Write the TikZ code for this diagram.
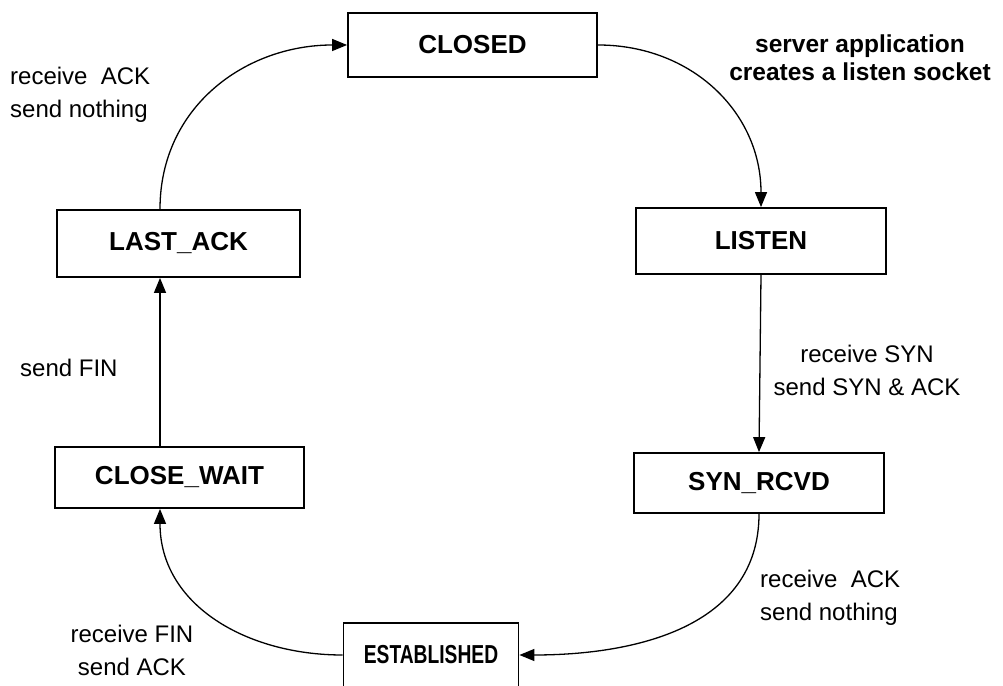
\documentclass[tikz,border=0pt]{standalone}
\usepackage{fontspec}
\setmainfont{Liberation Sans}
\usetikzlibrary{arrows.meta,calc}
\begin{document}
\begin{tikzpicture}[x=1pt,y=1pt,
  state/.style={draw=black, line width=1.8pt, fill=white, inner sep=0pt,
                font=\fontsize{26}{30}\selectfont\bfseries},
  link/.style={line width=1.3pt, -{Triangle[length=15pt,width=12pt]}},
  note/.style={font=\fontsize{24}{33}\selectfont, inner sep=0pt},
  boldnote/.style={font=\fontsize{24.5}{28}\selectfont\bfseries, inner sep=0pt},
]
\useasboundingbox (0,0) rectangle (1003,685);
\clip (0,0) rectangle (1003,685);

% TCP server-side states
\node[state, minimum width=249pt, minimum height=64pt] (closed)      at (472.5,640)  {CLOSED};
\node[state, minimum width=250pt, minimum height=66pt] (listen)      at (761,444)    {LISTEN};
\node[state, minimum width=250pt, minimum height=60pt] (synrcvd)     at (759,202)    {SYN\_RCVD};
\node[state, minimum width=175pt, minimum height=64pt] (established) at (431,30)     {\scalebox{0.74}[1]{ESTABLISHED}};
\node[state, minimum width=249pt, minimum height=61pt] (closewait)   at (179.5,207.5){CLOSE\_WAIT};
\node[state, minimum width=243pt, minimum height=67pt] (lastack)     at (178.5,441.5){LAST\_ACK};

% column used by the left-hand connectors
\coordinate (lcol) at (160,0);

% transitions
\draw[link] (lastack.north -| lcol) to[out=90,in=180,looseness=1.05] (closed.west);
\draw[link] (closed.east) to[out=0,in=90,looseness=1.05] (listen.north);
\draw[link] (listen.south) -- (synrcvd.north);
\draw[link] (synrcvd.south) to[out=-90,in=0,looseness=1.05] (established.east);
\draw[link] (established.west) to[out=180,in=-90,looseness=1.05] (closewait.south -| lcol);
\draw[link] (closewait.north -| lcol) -- (lastack.south -| lcol);

% transition labels
\node[note, anchor=west, align=left] (l1) at (10,590) {receive\ \ ACK\\send nothing};
\node[boldnote, align=center] (l2) at (860,627) {server application\\creates a listen socket};
\node[note, anchor=west] (l3) at (20,317) {send FIN};
\node[note, align=center] (l4) at (867,315) {receive SYN\\send SYN \& ACK};
\node[note, anchor=west, align=left] (l5) at (760,87) {receive\ \ ACK\\send nothing};
\node[note, align=center] (l6) at (132,35) {receive FIN\\send ACK};
\end{tikzpicture}
\end{document}
